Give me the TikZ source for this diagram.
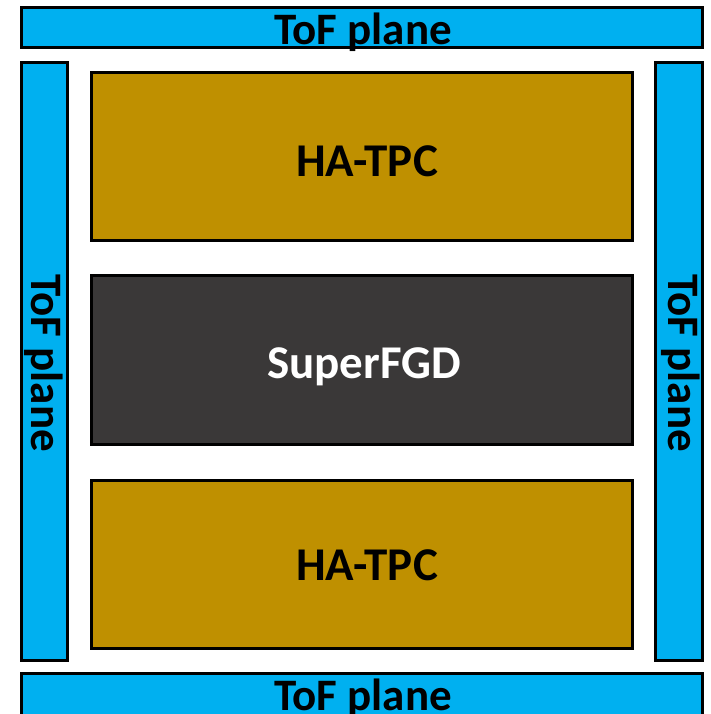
\documentclass[tikz,border=0pt]{standalone}
\usepackage{fontspec}
\setmainfont{Carlito}
\definecolor{tofblue}{HTML}{00B0F0}
\definecolor{tpcgold}{HTML}{BF9000}
\definecolor{fgdgrey}{HTML}{3A3838}
\begin{document}
\begin{tikzpicture}[x=1pt,y=-1pt,
  box/.style={draw=black,line width=3pt},
  tof/.style={box,fill=tofblue},
  tpc/.style={box,fill=tpcgold},
  fgd/.style={box,fill=fgdgrey},
  lbl/.style={font=\fontsize{45}{45}\selectfont\bfseries,inner sep=0pt,anchor=base},
  biglbl/.style={lbl,font=\fontsize{47}{47}\selectfont\bfseries},
]
\useasboundingbox (0,0) rectangle (710,714);
\clip (0,0) rectangle (710,714);
% ToF planes around the detector
\draw[tof] (21.5,7.5) rectangle (702.5,47.5);
\draw[tof] (21.5,62.5) rectangle (67.5,660.5);
\draw[tof] (655.5,62.5) rectangle (702.5,660.5);
\draw[tof] (21.5,673.5) rectangle (702.5,730);
% Inner detectors
\draw[tpc] (91.5,72.5) rectangle (632.5,240.5);
\draw[fgd] (91.5,275.5) rectangle (632.5,444.5);
\draw[tpc] (91.5,480.5) rectangle (632.5,648.5);
% Labels
\node[lbl] (toptof) at (363,45) {ToF plane};
\node[lbl] (bottof) at (363,710) {ToF plane};
\node[lbl,rotate=-90] (lefttof) at (31.5,363) {ToF plane};
\node[lbl,rotate=-90] (righttof) at (668,363) {ToF plane};
\node[biglbl] (tpc1) at (367,176) {HA-TPC};
\node[biglbl,text=white] (sfgd) at (364,378) {SuperFGD};
\node[biglbl] (tpc2) at (367,580) {HA-TPC};
\end{tikzpicture}
\end{document}
